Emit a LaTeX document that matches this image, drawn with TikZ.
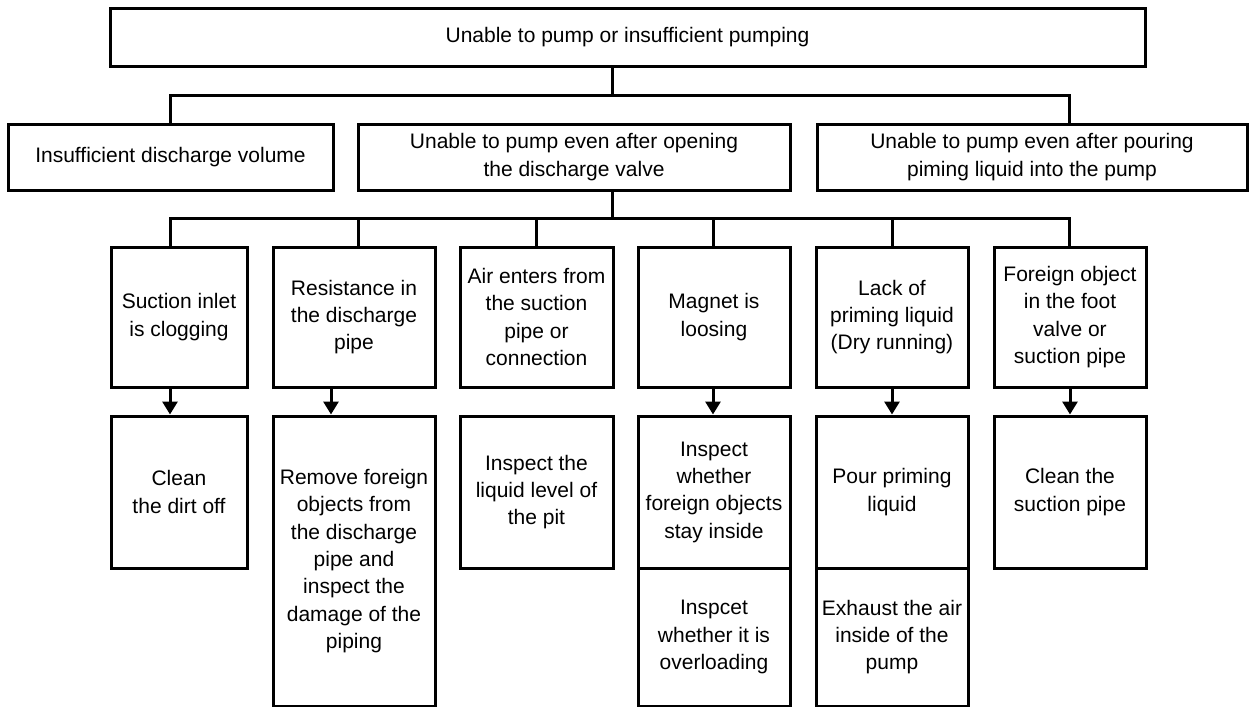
\documentclass[tikz,border=0pt]{standalone}
\usepackage{fontspec}
\setmainfont{Liberation Sans}
\usetikzlibrary{arrows.meta}
\begin{document}
\begin{tikzpicture}[x=1pt,y=-1pt,
  box/.style={draw=black,line width=3pt,rectangle,inner sep=0pt,align=center,
    font=\fontsize{21}{27.3}\selectfont},
  conn/.style={draw=black,line width=3pt},
  arr/.style={conn,-{Triangle[width=15pt,length=13pt]}}]
\useasboundingbox (0,0) rectangle (1254,707);
% level 1
\node[box,minimum width=1035pt,minimum height=58pt] (top) at (627.5,37) {Unable to pump or insufficient pumping};
% level 2
\node[box,minimum width=325pt,minimum height=66pt] (l2a) at (170.5,157) {Insufficient discharge volume};
\node[box,minimum width=432pt,minimum height=66pt] (l2b) at (574,157) {Unable to pump even after opening\\the discharge valve};
\node[box,minimum width=430pt,minimum height=66pt] (l2c) at (1032,157) {Unable to pump even after pouring\\piming liquid into the pump};
% level 3
\node[box,minimum width=136pt,minimum height=140pt] (r3a) at (179,317) {Suction inlet\\is clogging};
\node[box,minimum width=162pt,minimum height=140pt] (r3b) at (354,317) {Resistance in\\the discharge\\pipe};
\node[box,minimum width=153pt,minimum height=140pt] (r3c) at (536.5,317) {Air enters from\\the suction\\pipe or\\connection};
\node[box,minimum width=152pt,minimum height=140pt] (r3d) at (714,317) {Magnet is\\loosing};
\node[box,minimum width=152pt,minimum height=140pt] (r3e) at (892,317) {Lack of\\priming liquid\\(Dry running)};
\node[box,minimum width=152pt,minimum height=140pt] (r3f) at (1070,317) {Foreign object\\in the foot\\valve or\\suction pipe};
% level 4
\node[box,minimum width=136pt,minimum height=152pt] (r4a) at (179,492) {Clean\\the dirt off};
\node[box,minimum width=162pt,minimum height=290pt] (r4b) at (354,561) {Remove foreign\\objects from\\the discharge\\pipe and\\inspect the\\damage of the\\piping};
\node[box,minimum width=153pt,minimum height=152pt] (r4c) at (536.5,492) {Inspect the\\liquid level of\\the pit};
\node[box,minimum width=152pt,minimum height=152pt] (r4d) at (714,492) {Inspect\\whether\\foreign objects\\stay inside};
\node[box,minimum width=152pt,minimum height=138pt] (r4d2) at (714,637) {Inspcet\\whether it is\\overloading};
\node[box,minimum width=152pt,minimum height=152pt] (r4e) at (892,492) {Pour priming\\liquid};
\node[box,minimum width=152pt,minimum height=138pt] (r4e2) at (892,637) {Exhaust the air\\inside of the\\pump};
\node[box,minimum width=152pt,minimum height=152pt] (r4f) at (1070,492) {Clean the\\suction pipe};
% bus coordinates
\coordinate (j1) at (612,95);
\coordinate (b1L) at (170,95);
\coordinate (b1R) at (1069,95);
\coordinate (j2) at (612,218);
\coordinate (c1) at (170,218);
\coordinate (c2) at (358,218);
\coordinate (c3) at (536,218);
\coordinate (c4) at (713,218);
\coordinate (c5) at (892,218);
\coordinate (c6) at (1069,218);
% level 1 -> 2
\draw[conn] (top.south -| j1) -- (j1);
\draw[conn] (l2a.north -| b1L) -- (b1L) -- (b1R) -- (b1R |- l2c.north);
% level 2 -> 3
\draw[conn] (l2b.south -| j2) -- (j2);
\draw[conn] (c1 |- r3a.north) -- (c1) -- (c6) -- (c6 |- r3f.north);
\draw[conn] (c2) -- (c2 |- r3b.north);
\draw[conn] (c3) -- (c3 |- r3c.north);
\draw[conn] (c4) -- (c4 |- r3d.north);
\draw[conn] (c5) -- (c5 |- r3e.north);
% level 3 -> 4
\coordinate (a2) at (331,218);
\coordinate (a6) at (1070,218);
\draw[arr] (r3a.south -| c1) -- (r4a.north -| c1);
\draw[arr] (r3b.south -| a2) -- (r4b.north -| a2);
\draw[arr] (r3d.south -| c4) -- (r4d.north -| c4);
\draw[arr] (r3e.south -| c5) -- (r4e.north -| c5);
\draw[arr] (r3f.south -| a6) -- (r4f.north -| a6);
\end{tikzpicture}
\end{document}
